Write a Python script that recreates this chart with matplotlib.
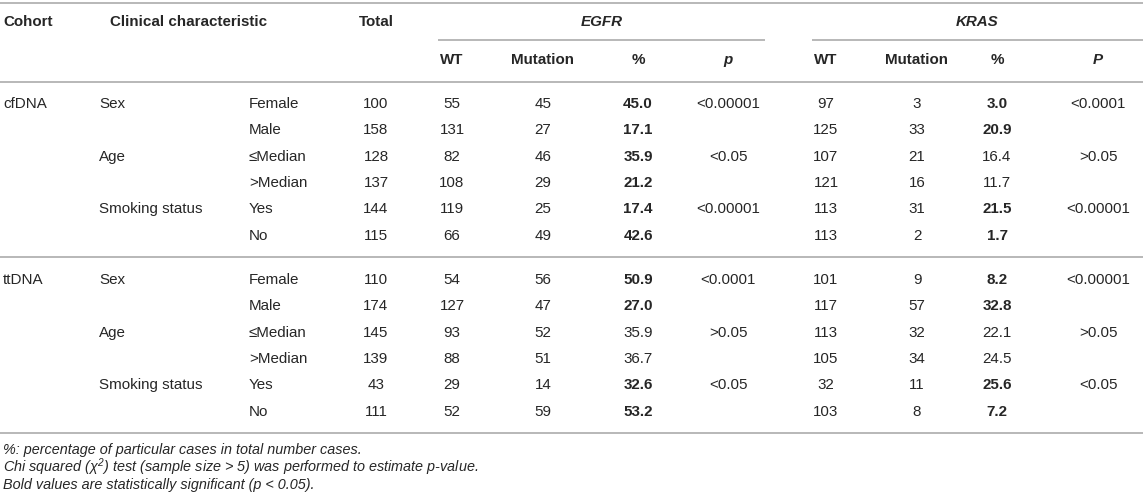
import matplotlib
matplotlib.use('Agg')
import matplotlib.pyplot as plt

# table data
cohorts = ['cfDNA', 'ttDNA']
characteristics = ['Sex', '', 'Age', '', 'Smoking status', '']
subgroups = ['Female', 'Male', '\u2264Median', '>Median', 'Yes', 'No']

totals = [[100, 158, 128, 137, 144, 115],
          [110, 174, 145, 139, 43, 111]]
egfr_wt = [[55, 131, 82, 108, 119, 66],
           [54, 127, 93, 88, 29, 52]]
egfr_mut = [[45, 27, 46, 29, 25, 49],
            [56, 47, 52, 51, 14, 59]]
egfr_pct = [['45.0', '17.1', '35.9', '21.2', '17.4', '42.6'],
            ['50.9', '27.0', '35.9', '36.7', '32.6', '53.2']]
egfr_p = [['<0.00001', '', '<0.05', '', '<0.00001', ''],
          ['<0.0001', '', '>0.05', '', '<0.05', '']]
kras_wt = [[97, 125, 107, 121, 113, 113],
           [101, 117, 113, 105, 32, 103]]
kras_mut = [[3, 33, 21, 16, 31, 2],
            [9, 57, 32, 34, 11, 8]]
kras_pct = [['3.0', '20.9', '16.4', '11.7', '21.5', '1.7'],
            ['8.2', '32.8', '22.1', '24.5', '25.6', '7.2']]
kras_p = [['<0.0001', '', '>0.05', '', '<0.00001', ''],
          ['<0.00001', '', '>0.05', '', '<0.05', '']]

footnotes = ['%: percentage of particular cases in total number cases.',
             r'Chi squared ($\chi^2$) test (sample size > 5) was performed to estimate p-value.',
             'Bold values are statistically significant (p < 0.05).']

plt.rcParams['font.family'] = ['Liberation Sans', 'DejaVu Sans']
plt.rcParams['mathtext.fontset'] = 'custom'
plt.rcParams['mathtext.it'] = 'Liberation Sans:italic'
plt.rcParams['mathtext.rm'] = 'Liberation Sans:italic'

W, H = 1143, 501
fig = plt.figure(figsize=(W / 100, H / 100), dpi=100)
ax = fig.add_axes([0, 0, 1, 1])
ax.set_xlim(0, W)
ax.set_ylim(H, 0)
ax.axis('off')

fs = 10.9
txt = '#262626'
rule = '#b8b8b8'

def hline(y, x0=0, x1=W):
    ax.plot([x0, x1], [y, y], color=rule, lw=1.4, solid_capstyle='butt')

def t(x, y, s, ha='center', **kw):
    ax.text(x, y, s, ha=ha, va='center', fontsize=kw.pop('size', fs), color=txt, **kw)

# column positions
x_cohort, x_char_h, x_char, x_sub = 3, 110, 99, 249
x_total = 376
x_ewt, x_emut, x_epct, x_ep = 452, 543, 638, 728
x_kwt, x_kmut, x_kpct, x_kp = 826, 917, 997, 1098

# header
hline(3)
y_h1, y_h2 = 22, 60
t(x_cohort, y_h1, 'Cohort', ha='left', fontweight='bold')
t(x_char_h, y_h1, 'Clinical characteristic', ha='left', fontweight='bold')
t(x_total, y_h1, 'Total', fontweight='bold')
t((438 + 765) / 2, y_h1, 'EGFR', fontweight='bold', style='italic')
t((812 + W) / 2, y_h1, 'KRAS', fontweight='bold', style='italic')
hline(40, 438, 765)
hline(40, 812, W)
for x, s in [(x_ewt, 'WT'), (x_emut, 'Mutation'), (x_epct, '%'),
             (x_kwt, 'WT'), (x_kmut, 'Mutation'), (x_kpct, '%')]:
    t(x, y_h2, s, fontweight='bold')
t(x_ep, y_h2, 'p', fontweight='bold', style='italic')
t(x_kp, y_h2, 'P', fontweight='bold', style='italic')
hline(82)

# body
row_h = 26.3
starts = [104, 280]
rules = [257, 433]
for c, cohort in enumerate(cohorts):
    for i in range(6):
        y = starts[c] + i * row_h
        if i == 0:
            t(x_cohort, y, cohort, ha='left')
        t(x_char, y, characteristics[i], ha='left')
        t(x_sub, y, subgroups[i], ha='left')
        t(x_total, y, str(totals[c][i]))
        t(x_ewt, y, str(egfr_wt[c][i]))
        t(x_emut, y, str(egfr_mut[c][i]))
        ep = egfr_p[c][i - i % 2]
        t(x_epct, y, egfr_pct[c][i], fontweight='bold' if ep.startswith('<') else 'normal')
        t(x_ep, y, egfr_p[c][i])
        t(x_kwt, y, str(kras_wt[c][i]))
        t(x_kmut, y, str(kras_mut[c][i]))
        kp = kras_p[c][i - i % 2]
        t(x_kpct, y, kras_pct[c][i], fontweight='bold' if kp.startswith('<') else 'normal')
        t(x_kp, y, kras_p[c][i])
    hline(rules[c])

for j, note in enumerate(footnotes):
    t(3, 450 + j * 17.5, note, ha='left', style='italic', size=10.4)

fig.savefig('out.png', dpi=100)
